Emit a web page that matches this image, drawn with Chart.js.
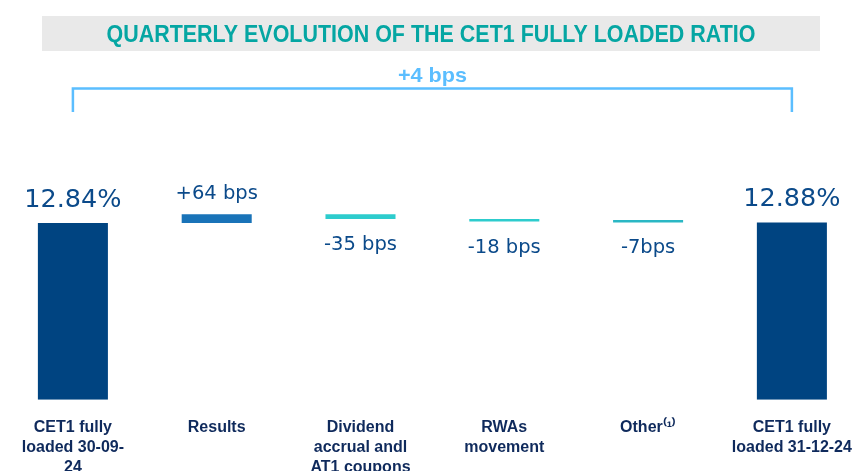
<!DOCTYPE html>
<html>
<head>
<meta charset="utf-8">
<script src="https://cdn.jsdelivr.net/npm/chart.js@4.4.1/dist/chart.umd.min.js"></script>
<style>
  html, body { margin: 0; padding: 0; background: #ffffff; overflow: hidden; width: 854px; height: 471px; }
  #wrap { position: absolute; left: 0; top: 0; width: 870px; height: 490px; }
</style>
</head>
<body>
<div id="wrap"><canvas id="c" width="870" height="490"></canvas></div>
<script>
// ---- data ----
const categories = [
  ["CET1 fully", "loaded 30-09-", "24"],
  ["Results"],
  ["Dividend", "accrual andl", "AT1 coupons"],
  ["RWAs", "movement"],
  ["Other⁽¹⁾"],
  ["CET1 fully", "loaded 31-12-24"]
];
const startRatio = 12.84;            // %
const deltas = [0.64, -0.35, -0.18, -0.07]; // percentage points
const endRatio = 12.88;              // %
const valueLabels = ["12.84%", "+64 bps", "-35 bps", "-18 bps", "-7bps", "12.88%"];
const bracketLabel = "+4 bps";
const titleText = "QUARTERLY EVOLUTION OF THE CET1 FULLY LOADED RATIO";
const barColors = ["#004481", "#1973B8", "#2DCCCD", "#2DCCCD", "#2AB7C4", "#004481"];

// waterfall ranges built from the data
const ranges = [[0, startRatio]];
let running = startRatio;
deltas.forEach(d => { ranges.push([running, running + d]); running += d; });
ranges.push([0, endRatio]);

const overlay = {
  id: 'overlay',
  beforeDraw(chart) {
    const ctx = chart.ctx;
    ctx.save();
    // title box
    ctx.fillStyle = '#E9E9E9';
    ctx.fillRect(42, 16, 778, 35);
    ctx.font = 'bold 23px "Liberation Sans", Arial, sans-serif';
    ctx.fillStyle = '#05A6A3';
    ctx.textAlign = 'center';
    ctx.textBaseline = 'alphabetic';
    const w = ctx.measureText(titleText).width;
    ctx.translate(431, 41.5);
    ctx.scale(649 / w, 1);
    ctx.fillText(titleText, 0, 0);
    ctx.restore();
  },
  afterDatasetsDraw(chart) {
    const ctx = chart.ctx;
    const meta = chart.getDatasetMeta(0);
    ctx.save();
    // value labels
    meta.data.forEach((bar, i) => {
      const top = Math.min(bar.y, bar.base);
      const bottom = Math.max(bar.y, bar.base);
      const isTotal = (i === 0 || i === meta.data.length - 1);
      ctx.fillStyle = '#0B4A8A';
      ctx.textAlign = 'center';
      ctx.textBaseline = 'alphabetic';
      if (isTotal) {
        ctx.font = '25.5px "DejaVu Sans", sans-serif';
        ctx.fillText(valueLabels[i], bar.x, top - 16);
      } else if (i - 1 >= 0 && deltas[i - 1] > 0) {
        ctx.font = '19.5px "DejaVu Sans", sans-serif';
        ctx.fillText(valueLabels[i], bar.x, top - 15);
      } else {
        ctx.font = '19.5px "DejaVu Sans", sans-serif';
        ctx.fillText(valueLabels[i], bar.x, bottom + 31);
      }
    });
    // bracket
    const x0 = meta.data[0].x;
    const x1 = meta.data[meta.data.length - 1].x;
    ctx.strokeStyle = '#5BBEFF';
    ctx.lineWidth = 2.5;
    ctx.lineCap = 'butt';
    ctx.lineJoin = 'miter';
    ctx.beginPath();
    ctx.moveTo(x0, 112);
    ctx.lineTo(x0, 88.5);
    ctx.lineTo(x1, 88.5);
    ctx.lineTo(x1, 112);
    ctx.stroke();
    ctx.font = 'bold 21px "Liberation Sans", Arial, sans-serif';
    ctx.fillStyle = '#5BBEFF';
    const bw = ctx.measureText(bracketLabel).width;
    ctx.translate((x0 + x1) / 2, 82);
    ctx.scale(69 / bw, 1);
    ctx.textAlign = 'center';
    ctx.fillText(bracketLabel, 0, 0);
    ctx.restore();
  }
};

new Chart(document.getElementById('c'), {
  type: 'bar',
  data: {
    labels: categories,
    datasets: [{
      data: ranges,
      backgroundColor: barColors,
      borderWidth: 0,
      barPercentage: 0.487,
      categoryPercentage: 1.0,
      minBarLength: 2.5
    }]
  },
  options: {
    responsive: false,
    animation: false,
    devicePixelRatio: 1,
    layout: { padding: { top: 124.5, left: 1, right: 1, bottom: 0 } },
    plugins: {
      legend: { display: false },
      tooltip: { enabled: false },
      title: { display: false }
    },
    scales: {
      x: {
        grid: { display: false, drawTicks: false },
        border: { display: false },
        ticks: {
          color: '#0F2A5C',
          font: { family: '"Liberation Sans", Arial, sans-serif', size: 16, weight: 'bold', lineHeight: 1.25 },
          padding: 18,
          maxRotation: 0,
          minRotation: 0,
          autoSkip: false
        },
        afterFit(scale) { scale.height = 90.3; }
      },
      y: {
        display: false,
        min: 0,
        max: 20
      }
    }
  },
  plugins: [overlay]
});
</script>
</body>
</html>
